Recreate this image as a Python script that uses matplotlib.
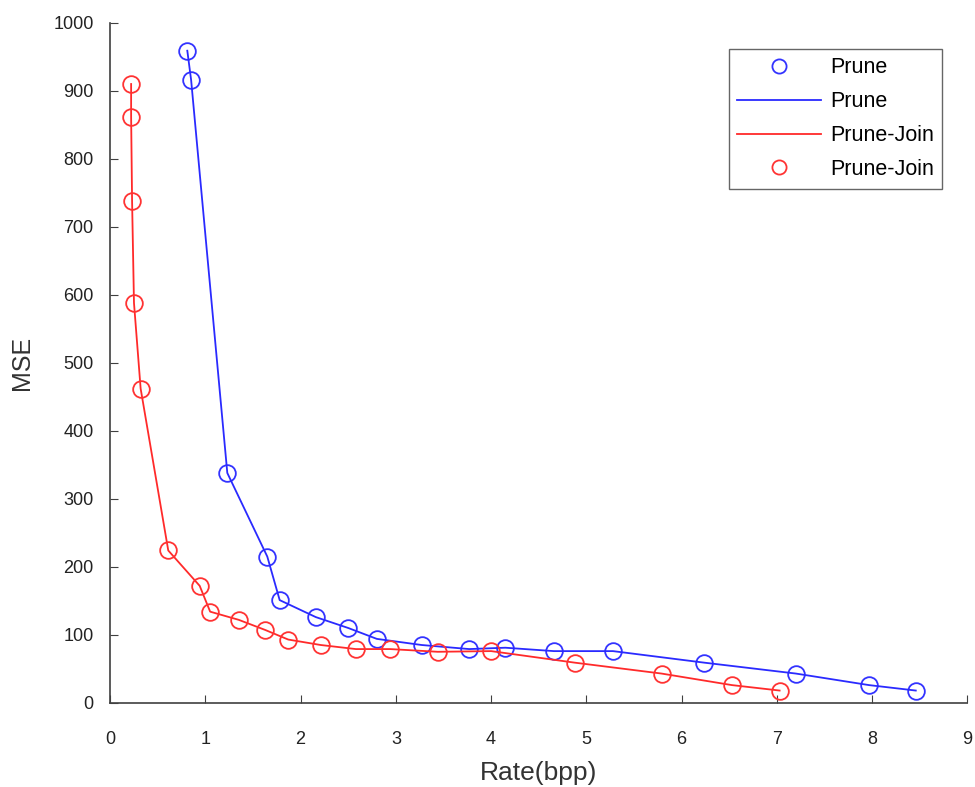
import numpy as np
import matplotlib.pyplot as plt

# rate (bpp) vs MSE
prune_rate = [0.81, 0.85, 1.23, 1.65, 1.78, 2.16, 2.50, 2.80, 3.27, 3.77,
              4.15, 4.66, 5.28, 6.24, 7.20, 7.97, 8.46]
prune_mse = [959, 916, 338, 215, 151, 126, 110, 94, 85, 79,
             81, 76, 76, 59, 43, 26, 18]

join_rate = [0.22, 0.22, 0.23, 0.25, 0.32, 0.61, 0.94, 1.05, 1.35, 1.63,
             1.87, 2.21, 2.58, 2.94, 3.44, 4.00, 4.88, 5.79, 6.53, 7.03]
join_mse = [910, 862, 738, 588, 462, 224, 172, 134, 122, 107,
            93, 85, 79, 79, 75, 76, 59, 43, 26, 18]

xticks = np.arange(0, 10, 1)
yticks = np.arange(0, 1100, 100)

plt.rcParams['font.family'] = ['Liberation Sans', 'DejaVu Sans']

fig = plt.figure(figsize=(9.75, 7.87), dpi=100)
ax = fig.add_axes([0.113, 0.107, 0.879, 0.864])

ax.plot(prune_rate, prune_mse, 'o', color='#3333ff', mfc='none', ms=12, mew=1.3, label='Prune')
ax.plot(prune_rate, prune_mse, '-', color='#2a2aff', lw=1.3, label='Prune')
ax.plot(join_rate, join_mse, '-', color='#ff2a2a', lw=1.3, label='Prune-Join')
ax.plot(join_rate, join_mse, 'o', color='#ff3333', mfc='none', ms=12, mew=1.3, label='Prune-Join')

ax.set_xlim(0, 9)
ax.set_ylim(0, 1000)
ax.set_xticks(xticks)
ax.set_yticks(yticks)
ax.tick_params(direction='in', length=6, color='#404040', labelsize=13, pad=12,
               labelcolor='#222222')
ax.tick_params(axis='x', pad=20)
for s in ['top', 'right']:
    ax.spines[s].set_visible(False)
for s in ['left', 'bottom']:
    ax.spines[s].set_color('#404040')
    ax.spines[s].set_linewidth(1.2)

ax.set_xlabel('Rate(bpp)', fontsize=19, color='#333333', labelpad=10)
ax.set_ylabel('MSE', fontsize=18, color='#333333', labelpad=14)

leg = ax.legend(loc='upper right', bbox_to_anchor=(0.971, 0.962), borderaxespad=0,
                fontsize=15.5, frameon=True, fancybox=False, edgecolor='#404040',
                handlelength=3.9, handletextpad=0.4, borderpad=0.4, labelspacing=0.6,
                markerscale=0.85)
leg.get_frame().set_linewidth(1.0)

fig.savefig('out.png', dpi=100)
